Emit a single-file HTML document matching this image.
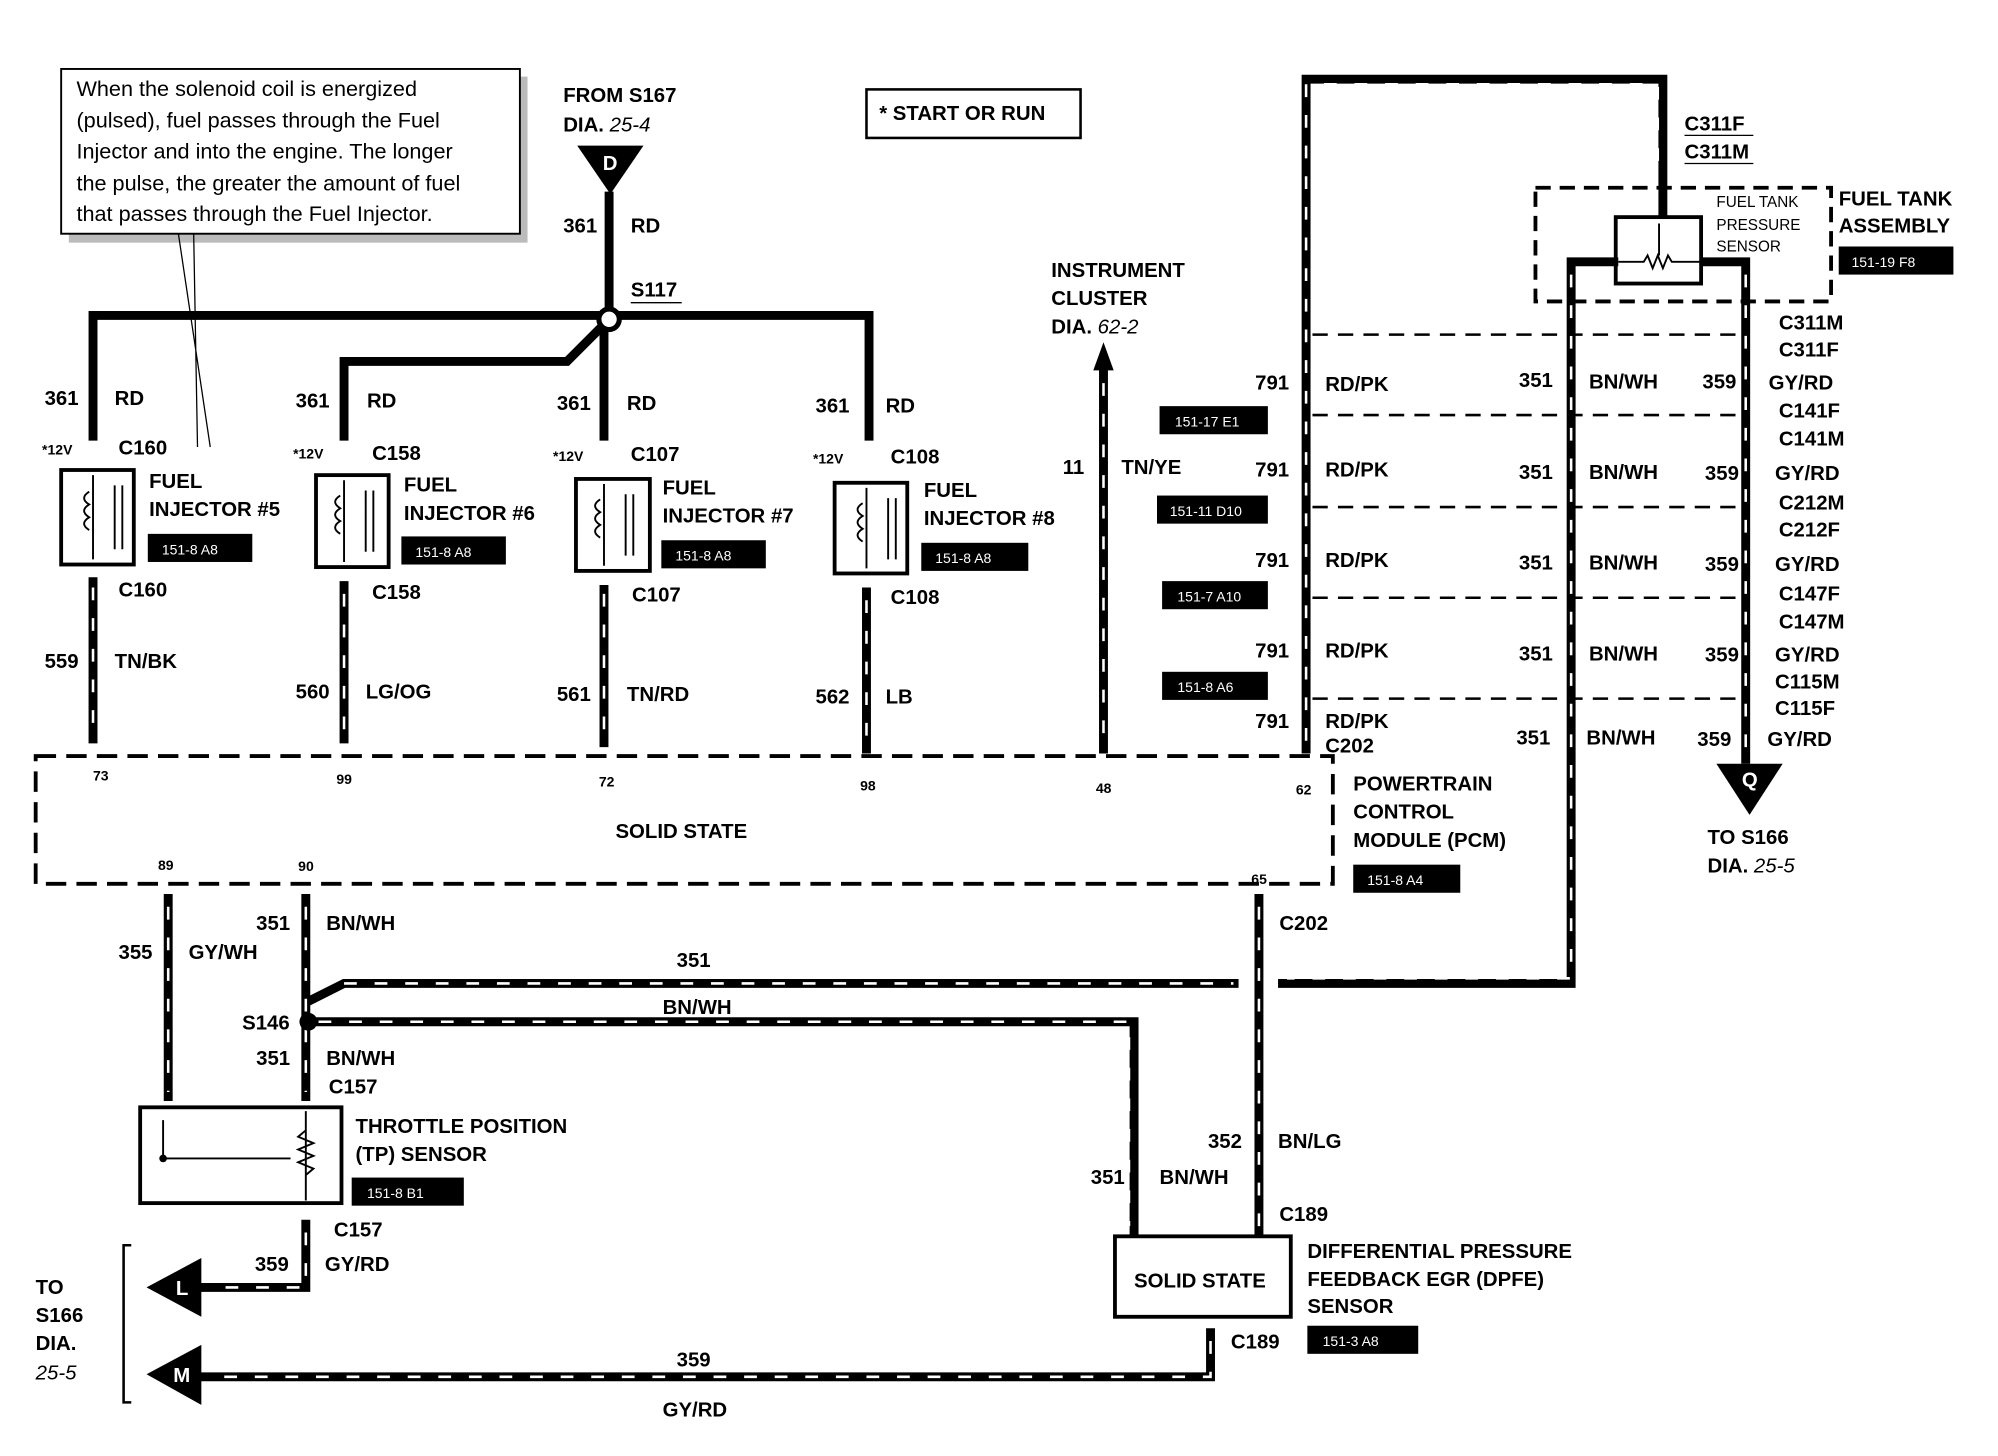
<!DOCTYPE html>
<html><head><meta charset="utf-8"><style>
html,body{margin:0;padding:0;background:#fff}
svg{display:block}
text{font-family:"Liberation Sans",sans-serif;font-weight:bold;font-size:16px;fill:#000}
.n{font-weight:normal;font-size:17px}
.s{font-size:11px}
.w{fill:#fff;font-size:11px;font-weight:normal}
.it{font-style:italic;font-weight:normal}
</style></head><body>
<svg width="1998" height="1456" viewBox="0 0 1568 1140" preserveAspectRatio="none" xmlns="http://www.w3.org/2000/svg">
<g fill="none" stroke="#000" stroke-width="7">
<!-- top bus -->
<path d="M73,345 V247 H682 V345"/>
<path d="M478,150 V250"/>
<path d="M478,250 L445,283 H270 V345"/>
<path d="M474,250 V345"/>
<!-- lower injector wires -->
<path d="M73,452 V582 M270,455 V582 M474,458 V585 M680,460 V590"/>
<!-- instrument cluster -->
<path d="M866,590 V285"/>
<!-- right loop -->
<path d="M1025,590 V62 H1305 V170"/>
<path d="M1270,205 H1233 V770 H1003"/>
<path d="M1335,205 H1370 V598"/>
<!-- lower -->
<path d="M132,700 V862 M240,700 V862"/>
<path d="M240,785 L270,770 H972"/>
<path d="M242,800 H890 V968"/>
<path d="M988,700 V968"/>
<path d="M240,955 V1008 H155"/>
<path d="M950,1040 V1078 H155"/>
</g>
<!-- white dashes on heavy wires -->
<g fill="none" stroke="#fff" stroke-width="2" stroke-dasharray="10 14">
<path d="M1025,580 V66 H1301 V140"/>
<path d="M1233,215 V766 H1010"/>
<path d="M1370,215 V590"/>
<path d="M270,770 H968 M250,800 H886 V960 M988,710 V960"/>
<path d="M950,1050 V1078 H170 M240,965 V1008 H170"/>
<path d="M866,300 V585 M132,710 V855 M240,710 V855"/>
<path d="M73,460 V575 M270,465 V575 M474,465 V578 M680,470 V582"/>
</g>
<circle cx="478" cy="250" r="8" fill="#fff" stroke="#000" stroke-width="4"/>
<circle cx="242" cy="800" r="7" fill="#000"/>
<!-- callout -->
<rect x="54" y="60" width="360" height="130" fill="#bbb"/>
<rect x="48" y="54" width="360" height="129" fill="#fff" stroke="#000" stroke-width="1.5"/>
<path d="M140,183 L165,350 M152,183 L155,350" stroke="#000" stroke-width="1"/>
<text class="n" x="60" y="75">When the solenoid coil is energized</text>
<text class="n" x="60" y="100">(pulsed), fuel passes through the Fuel</text>
<text class="n" x="60" y="124">Injector and into the engine. The longer</text>
<text class="n" x="60" y="149">the pulse, the greater the amount of fuel</text>
<text class="n" x="60" y="173">that passes through the Fuel Injector.</text>
<!-- top labels -->
<text x="442" y="80">FROM S167</text>
<text x="442" y="103">DIA. <tspan class="it">25-4</tspan></text>
<polygon points="453,114 505,114 479,152" fill="#000"/>
<text x="473" y="133" style="fill:#fff">D</text>
<text x="442" y="182">361</text><text x="495" y="182">RD</text>
<text x="495" y="232">S117</text><path d="M495,237 H535" stroke="#000"/>
<rect x="680" y="70" width="168" height="38" fill="none" stroke="#000" stroke-width="2"/>
<text x="690" y="94">* START OR RUN</text>
<!-- injectors -->
<g id="inj">
</g>
<g fill="none" stroke="#000" stroke-width="3">
<rect x="48" y="368" width="57" height="74"/><rect x="248" y="372" width="57" height="72"/>
<rect x="452" y="375" width="58" height="72"/><rect x="655" y="378" width="57" height="71"/>
</g>
<g fill="none" stroke="#000" stroke-width="1.5">
<path d="M73,372 V438 M90,380 V430 M96,380 V430 M70,385 q-8,5 0,10 q-8,5 0,10 q-8,5 0,10"/>
<path d="M270,376 V440 M287,384 V432 M293,384 V432 M267,388 q-8,5 0,10 q-8,5 0,10 q-8,5 0,10"/>
<path d="M474,379 V443 M491,387 V435 M497,387 V435 M471,391 q-8,5 0,10 q-8,5 0,10 q-8,5 0,10"/>
<path d="M680,382 V445 M697,390 V438 M703,390 V438 M677,394 q-8,5 0,10 q-8,5 0,10 q-8,5 0,10"/>
</g>
<text x="35" y="317">361</text><text x="90" y="317">RD</text>
<text class="s" x="33" y="356">*12V</text><text x="93" y="356">C160</text>
<text x="117" y="382">FUEL</text><text x="117" y="404">INJECTOR #5</text>
<rect x="116" y="418" width="82" height="22" fill="#000"/><text class="w" x="127" y="434">151-8 A8</text>
<text x="93" y="467">C160</text>
<text x="35" y="523">559</text><text x="90" y="523">TN/BK</text>
<text x="232" y="319">361</text><text x="288" y="319">RD</text>
<text class="s" x="230" y="359">*12V</text><text x="292" y="360">C158</text>
<text x="317" y="385">FUEL</text><text x="317" y="407">INJECTOR #6</text>
<rect x="315" y="420" width="82" height="22" fill="#000"/><text class="w" x="326" y="436">151-8 A8</text>
<text x="292" y="469">C158</text>
<text x="232" y="547">560</text><text x="287" y="547">LG/OG</text>
<text x="437" y="321">361</text><text x="492" y="321">RD</text>
<text class="s" x="434" y="361">*12V</text><text x="495" y="361">C107</text>
<text x="520" y="387">FUEL</text><text x="520" y="409">INJECTOR #7</text>
<rect x="519" y="423" width="82" height="22" fill="#000"/><text class="w" x="530" y="439">151-8 A8</text>
<text x="496" y="471">C107</text>
<text x="437" y="549">561</text><text x="492" y="549">TN/RD</text>
<text x="640" y="323">361</text><text x="695" y="323">RD</text>
<text class="s" x="638" y="363">*12V</text><text x="699" y="363">C108</text>
<text x="725" y="389">FUEL</text><text x="725" y="411">INJECTOR #8</text>
<rect x="723" y="425" width="84" height="22" fill="#000"/><text class="w" x="734" y="441">151-8 A8</text>
<text x="699" y="473">C108</text>
<text x="640" y="551">562</text><text x="695" y="551">LB</text>
<!-- PCM -->
<rect x="28" y="592" width="1018" height="100" fill="none" stroke="#000" stroke-width="3" stroke-dasharray="16 8"/>
<text x="483" y="656">SOLID STATE</text>
<g class="s"><text class="s" x="73" y="611">73</text><text class="s" x="264" y="614">99</text><text class="s" x="470" y="616">72</text><text class="s" x="675" y="619">98</text><text class="s" x="860" y="621">48</text><text class="s" x="1017" y="622">62</text>
<text class="s" x="124" y="681">89</text><text class="s" x="234" y="682">90</text><text class="s" x="982" y="692">65</text></g>
<text x="1062" y="619">POWERTRAIN</text><text x="1062" y="641">CONTROL</text><text x="1062" y="663">MODULE (PCM)</text>
<rect x="1062" y="677" width="84" height="22" fill="#000"/><text class="w" x="1073" y="693">151-8 A4</text>
<!-- instrument cluster -->
<polygon points="858,290 874,290 866,268" fill="#000"/>
<text x="825" y="217">INSTRUMENT</text><text x="825" y="239">CLUSTER</text><text x="825" y="261">DIA. <tspan class="it">62-2</tspan></text>
<text x="834" y="371">11</text><text x="880" y="371">TN/YE</text>
<!-- right side -->
<rect x="1205" y="147" width="232" height="89" fill="none" stroke="#000" stroke-width="3" stroke-dasharray="12 7"/>
<rect x="1268" y="170" width="67" height="52" fill="none" stroke="#000" stroke-width="3"/>
<path d="M1270,205 H1290 l3,-5 l4,10 l4,-10 l4,10 l4,-10 l3,5 H1335 M1302,175 V200" stroke="#000" stroke-width="1.5" fill="none"/>
<text x="1347" y="162" style="font-size:12px;font-weight:normal">FUEL TANK</text>
<text x="1347" y="180" style="font-size:12px;font-weight:normal">PRESSURE</text>
<text x="1347" y="197" style="font-size:12px;font-weight:normal">SENSOR</text>
<text x="1443" y="161">FUEL TANK</text><text x="1443" y="182">ASSEMBLY</text>
<rect x="1443" y="193" width="90" height="22" fill="#000"/><text class="w" x="1453" y="209">151-19 F8</text>
<text x="1322" y="102">C311F</text><text x="1322" y="124">C311M</text>
<path d="M1322,106 H1376 M1322,128 H1376" stroke="#000"/>
<g fill="none" stroke="#000" stroke-width="2" stroke-dasharray="12 8">
<path d="M1030,262 H1365 M1030,325 H1365 M1030,397 H1365 M1030,468 H1365 M1030,547 H1365"/>
</g>
<g font-size="16">
<text x="1396" y="258">C311M</text><text x="1396" y="279">C311F</text>
<text x="985" y="305">791</text><text x="1040" y="306">RD/PK</text><text x="1192" y="303">351</text><text x="1247" y="304">BN/WH</text><text x="1336" y="304">359</text><text x="1388" y="305">GY/RD</text>
<text x="1396" y="327">C141F</text><text x="1396" y="349">C141M</text>
<text x="985" y="373">791</text><text x="1040" y="373">RD/PK</text><text x="1192" y="375">351</text><text x="1247" y="375">BN/WH</text><text x="1338" y="376">359</text><text x="1393" y="376">GY/RD</text>
<text x="1396" y="399">C212M</text><text x="1396" y="420">C212F</text>
<text x="985" y="444">791</text><text x="1040" y="444">RD/PK</text><text x="1192" y="446">351</text><text x="1247" y="446">BN/WH</text><text x="1338" y="447">359</text><text x="1393" y="447">GY/RD</text>
<text x="1396" y="470">C147F</text><text x="1396" y="492">C147M</text>
<text x="985" y="515">791</text><text x="1040" y="515">RD/PK</text><text x="1192" y="517">351</text><text x="1247" y="517">BN/WH</text><text x="1338" y="518">359</text><text x="1393" y="518">GY/RD</text>
<text x="1393" y="539">C115M</text><text x="1393" y="560">C115F</text>
<text x="985" y="570">791</text><text x="1040" y="570">RD/PK</text><text x="1040" y="589">C202</text>
<text x="1190" y="583">351</text><text x="1245" y="583">BN/WH</text><text x="1332" y="584">359</text><text x="1387" y="584">GY/RD</text>
</g>
<g>
<rect x="910" y="318" width="85" height="22" fill="#000"/><text class="w" x="922" y="334">151-17 E1</text>
<rect x="908" y="388" width="87" height="22" fill="#000"/><text class="w" x="918" y="404">151-11 D10</text>
<rect x="912" y="455" width="83" height="22" fill="#000"/><text class="w" x="924" y="471">151-7 A10</text>
<rect x="912" y="526" width="83" height="22" fill="#000"/><text class="w" x="924" y="542">151-8 A6</text>
</g>
<polygon points="1347,598 1399,598 1373,638" fill="#000"/>
<text x="1367" y="616" style="fill:#fff">Q</text>
<text x="1340" y="661">TO S166</text><text x="1340" y="683">DIA. <tspan class="it">25-5</tspan></text>
<!-- lower left -->
<text x="93" y="751">355</text><text x="148" y="751">GY/WH</text>
<text x="201" y="728">351</text><text x="256" y="728">BN/WH</text>
<text x="531" y="757">351</text><text x="520" y="794">BN/WH</text>
<text x="190" y="806">S146</text>
<text x="201" y="834">351</text><text x="256" y="834">BN/WH</text>
<text x="258" y="856">C157</text>
<rect x="110" y="867" width="158" height="75" fill="none" stroke="#000" stroke-width="3"/>
<path d="M128,877 V907 H228 M240,870 V940 M240,885 l-6,5 l12,5 l-12,5 l12,5 l-12,5 l12,5 l-6,5" stroke="#000" stroke-width="1.5" fill="none"/>
<circle cx="128" cy="907" r="3" fill="#000"/>
<text x="279" y="887">THROTTLE POSITION</text><text x="279" y="909">(TP) SENSOR</text>
<rect x="276" y="922" width="88" height="22" fill="#000"/><text class="w" x="288" y="938">151-8 B1</text>
<text x="262" y="968">C157</text>
<text x="200" y="995">359</text><text x="255" y="995">GY/RD</text>
<polygon points="115,1008 158,985 158,1031" fill="#000"/><text x="138" y="1014" style="fill:#fff">L</text>
<polygon points="115,1076 158,1053 158,1100" fill="#000"/><text x="136" y="1082" style="fill:#fff">M</text>
<path d="M103,975 H97 V1098 H103" stroke="#000" stroke-width="2" fill="none"/>
<text x="28" y="1013">TO</text><text x="28" y="1035">S166</text><text x="28" y="1057">DIA.</text><text class="it" x="28" y="1080">25-5</text>
<text x="531" y="1070">359</text><text x="520" y="1109">GY/RD</text>
<!-- DPFE -->
<text x="1004" y="728">C202</text>
<text x="948" y="899">352</text><text x="1003" y="899">BN/LG</text>
<text x="856" y="927">351</text><text x="910" y="927">BN/WH</text>
<text x="1004" y="956">C189</text>
<rect x="875" y="968" width="138" height="63" fill="none" stroke="#000" stroke-width="3"/>
<text x="890" y="1008">SOLID STATE</text>
<text x="1026" y="985">DIFFERENTIAL PRESSURE</text><text x="1026" y="1007">FEEDBACK EGR (DPFE)</text><text x="1026" y="1028">SENSOR</text>
<rect x="1026" y="1038" width="87" height="22" fill="#000"/><text class="w" x="1038" y="1054">151-3 A8</text>
<text x="966" y="1056">C189</text>
</svg>
</body></html>
